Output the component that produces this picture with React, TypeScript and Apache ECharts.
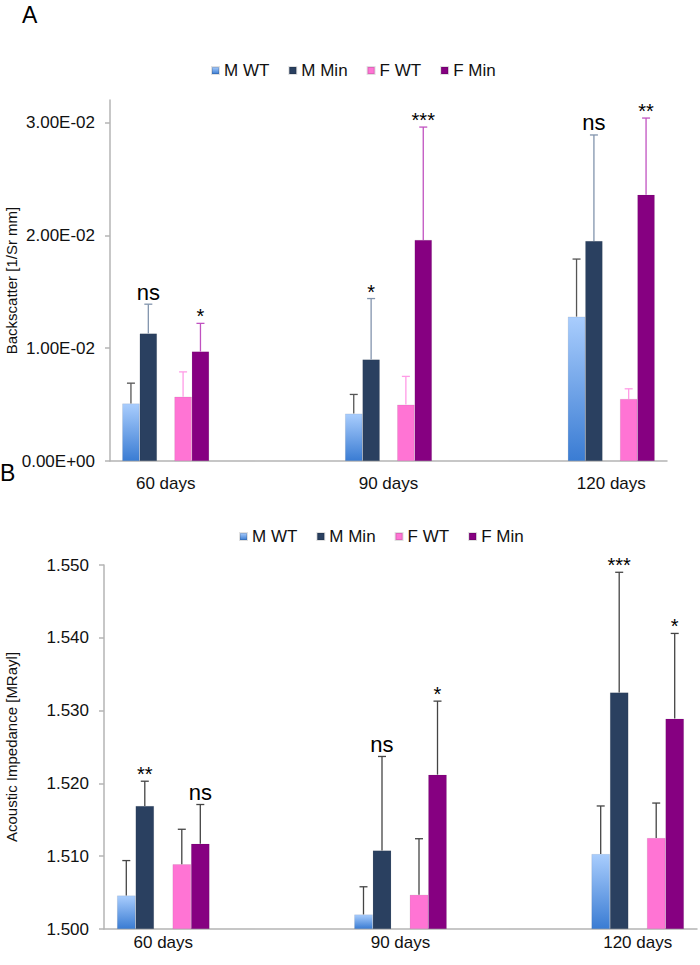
import * as echarts from "echarts";
import { useEffect, useRef } from "react";

// categories: the blank ones keep the wide gaps between the day groups
const cats = ["60 days", "", "90 days", "", "120 days"];
const names = ["M WT", "M Min", "F WT", "F Min"];

// panel A: Backscatter [1/Sr mm], mean and error (upper part only)
const aMWT = [0.0051, 0.0042, 0.0128];
const aMWTsd = [0.0018, 0.0017, 0.0051];
const aMMin = [0.0113, 0.009, 0.0195];
const aMMinsd = [0.0026, 0.0054, 0.0094];
const aFWT = [0.0057, 0.005, 0.0055];
const aFWTsd = [0.0022, 0.0025, 0.0009];
const aFMin = [0.0097, 0.0196, 0.0236];
const aFMinsd = [0.0025, 0.01, 0.0068];
const aSigMMin = ["ns", "*", "ns"];
const aSigFMin = ["*", "***", "**"];
const aTicks = [0, 0.01, 0.02, 0.03];

// panel B: Acoustic Impedance [MRayl]
const bMWT = [1.5046, 1.502, 1.5103];
const bMWTsd = [0.0048, 0.0038, 0.0066];
const bMMin = [1.5169, 1.5108, 1.5325];
const bMMinsd = [0.0034, 0.0129, 0.0165];
const bFWT = [1.5089, 1.5047, 1.5125];
const bFWTsd = [0.0048, 0.0077, 0.0048];
const bFMin = [1.5117, 1.5212, 1.5289];
const bFMinsd = [0.0054, 0.0101, 0.0117];
const bSigMMin = ["**", "ns", "***"];
const bSigFMin = ["ns", "*", "*"];

const FONT = "Liberation Sans, Arial, Helvetica, sans-serif";
const GAP = 0.22;
const slots = [0, 1, 3, 4];
const barColors = [
  new echarts.graphic.LinearGradient(0, 0, 0, 1, [
    { offset: 0, color: "#a9cdfd" },
    { offset: 1, color: "#3a7cd3" },
  ]),
  "#2a4060",
  "#ff74d4",
  "#860081",
];

const spread = (arr: number[]) => [arr[0], null, arr[1], null, arr[2]];

const sci = (v: number) => {
  if (Math.abs(v) < 1e-12) return "0.00E+00";
  const [m, e] = v.toExponential(2).split("e");
  const n = parseInt(e, 10);
  return m + "E" + (n < 0 ? "-" : "+") + String(Math.abs(n)).padStart(2, "0");
};

type Rec = { cat: number; slot: number; mean: number; top: number; color: string; sig: string };

function buildRecs(means: number[][], sds: number[][], sigs: string[][], colors: string[]): Rec[] {
  const out: Rec[] = [];
  for (let g = 0; g < 3; g++) {
    for (let s = 0; s < 4; s++) {
      out.push({
        cat: g * 2,
        slot: slots[s],
        mean: means[s][g],
        top: means[s][g] + sds[s][g],
        color: colors[s],
        sig: sigs[s][g],
      });
    }
  }
  return out;
}

const blank = ["", "", ""];
const recsA = buildRecs(
  [aMWT, aMMin, aFWT, aFMin],
  [aMWTsd, aMMinsd, aFWTsd, aFMinsd],
  [blank, aSigMMin, blank, aSigFMin],
  ["#555555", "#8294ad", "#ff9be6", "#c052c0"]
);
const recsB = buildRecs(
  [bMWT, bMMin, bFWT, bFMin],
  [bMWTsd, bMMinsd, bFWTsd, bFMinsd],
  [blank, bSigMMin, blank, bSigFMin],
  ["#444444", "#444444", "#444444", "#444444"]
);

function errorSeries(recs: Rec[], axis: number) {
  return {
    type: "custom",
    xAxisIndex: axis,
    yAxisIndex: axis,
    z: 5,
    data: recs.map((r) => [r.cat, r.top]),
    encode: { x: 0, y: 1 },
    renderItem: (params: any, api: any) => {
      const r = recs[params.dataIndex];
      const band = api.size([1, 0])[0];
      const used = band * (1 - GAP);
      const slotW = used / 5;
      const base = api.coord([r.cat, r.mean]);
      const top = api.coord([r.cat, r.top]);
      const x = base[0] - used / 2 + (r.slot + 0.5) * slotW;
      const children: any[] = [
        {
          type: "line",
          shape: { x1: x, y1: base[1], x2: x, y2: top[1] },
          style: { stroke: r.color, lineWidth: 1.3 },
        },
        {
          type: "line",
          shape: { x1: x - 4, y1: top[1], x2: x + 4, y2: top[1] },
          style: { stroke: r.color, lineWidth: 1.3 },
        },
      ];
      if (r.sig) {
        const isNs = r.sig === "ns";
        children.push({
          type: "text",
          x: x,
          y: top[1] + (isNs ? -1 : 3),
          style: {
            text: r.sig,
            fontFamily: FONT,
            fontSize: isNs ? 22 : 20,
            fill: "#000",
            align: "center",
            verticalAlign: "bottom",
          },
        });
      }
      return { type: "group", children };
    },
  };
}

function barSeries(data: number[][], axis: number) {
  const list: any[] = [];
  const order = [0, 1, -1, 2, 3];
  order.forEach((idx) => {
    if (idx < 0) {
      list.push({
        name: "gap",
        type: "bar",
        xAxisIndex: axis,
        yAxisIndex: axis,
        barGap: 0,
        barCategoryGap: GAP * 100 + "%",
        data: [null, null, null, null, null],
      });
    } else {
      list.push({
        name: names[idx],
        type: "bar",
        xAxisIndex: axis,
        yAxisIndex: axis,
        barGap: 0,
        barCategoryGap: GAP * 100 + "%",
        itemStyle: { color: barColors[idx], borderColor: "rgba(0,0,0,0.12)", borderWidth: 0.6 },
        data: spread(data[idx]),
      });
    }
  });
  return list;
}

const axisLineStyle = { color: "#b4b4b4", width: 1.5 };
const titleStyle = { fontFamily: FONT, fontSize: 23, fontWeight: "normal", color: "#000" };

export default function App() {
  const ref = useRef<HTMLDivElement>(null);

  useEffect(() => {
    const chart = echarts.init(ref.current, null, { renderer: "svg" });
    const option: any = {
      animation: false,
      backgroundColor: "#fff",
      textStyle: { fontFamily: FONT },
      title: [
        { text: "A", left: 22, top: 3, padding: 0, textStyle: titleStyle },
        { text: "B", left: 0, top: 461, padding: 0, textStyle: titleStyle },
      ],
      legend: [
        {
          data: names,
          left: 206,
          top: 57,
          icon: "rect",
          itemWidth: 7,
          itemHeight: 7,
          itemGap: 19,
          selectedMode: false,
          textStyle: { fontFamily: FONT, fontSize: 17, color: "#111" },
        },
        {
          data: names,
          left: 234,
          top: 523,
          icon: "rect",
          itemWidth: 7,
          itemHeight: 7,
          itemGap: 19,
          selectedMode: false,
          textStyle: { fontFamily: FONT, fontSize: 17, color: "#111" },
        },
      ],
      grid: [
        { left: 110, right: 33, top: 100, height: 361, outerBoundsMode: "none", containLabel: false },
        { left: 104, right: 3, top: 565, height: 364, outerBoundsMode: "none", containLabel: false },
      ],
      xAxis: [0, 1].map((i) => ({
        type: "category",
        gridIndex: i,
        data: cats,
        axisLine: { lineStyle: axisLineStyle },
        axisTick: { interval: 0, length: 5, lineStyle: axisLineStyle },
        axisLabel: { interval: 0, margin: i === 0 ? 14 : 5, fontFamily: FONT, fontSize: 17, color: "#111" },
      })),
      yAxis: [
        {
          type: "value",
          gridIndex: 0,
          min: 0,
          max: 0.032,
          interval: 0.01,
          name: "Backscatter [1/Sr mm]",
          nameLocation: "middle",
          nameGap: 91,
          nameMoveOverlap: false,
          nameTextStyle: { fontFamily: FONT, fontSize: 15, color: "#111" },
          splitLine: { show: false },
          axisLine: { show: true, lineStyle: axisLineStyle },
          axisTick: { show: true, length: 5, lineStyle: axisLineStyle, customValues: aTicks },
          axisLabel: {
            margin: 15,
            fontFamily: FONT,
            fontSize: 17,
            color: "#111",
            customValues: aTicks,
            formatter: (v: number) => (Math.abs(v * 100 - Math.round(v * 100)) < 1e-6 ? sci(v) : ""),
          },
        },
        {
          type: "value",
          gridIndex: 1,
          min: 1.5,
          max: 1.55,
          interval: 0.01,
          startValue: 1.5,
          name: "Acoustic Impedance [MRayl]",
          nameLocation: "middle",
          nameGap: 85,
          nameMoveOverlap: false,
          nameTextStyle: { fontFamily: FONT, fontSize: 15, color: "#111" },
          splitLine: { show: false },
          axisLine: { show: true, lineStyle: axisLineStyle },
          axisTick: { show: true, length: 5, lineStyle: axisLineStyle },
          axisLabel: {
            margin: 15,
            fontFamily: FONT,
            fontSize: 17,
            color: "#111",
            formatter: (v: number) => v.toFixed(3),
          },
        },
      ],
      series: [
        ...barSeries([aMWT, aMMin, aFWT, aFMin], 0),
        errorSeries(recsA, 0),
        ...barSeries([bMWT, bMMin, bFWT, bFMin], 1),
        errorSeries(recsB, 1),
      ],
    };
    chart.setOption(option);
    return () => {
      chart.dispose();
    };
  }, []);

  return <div ref={ref} style={{ position: "absolute", left: 0, top: 0, width: 700, height: 965 }}></div>;
}
